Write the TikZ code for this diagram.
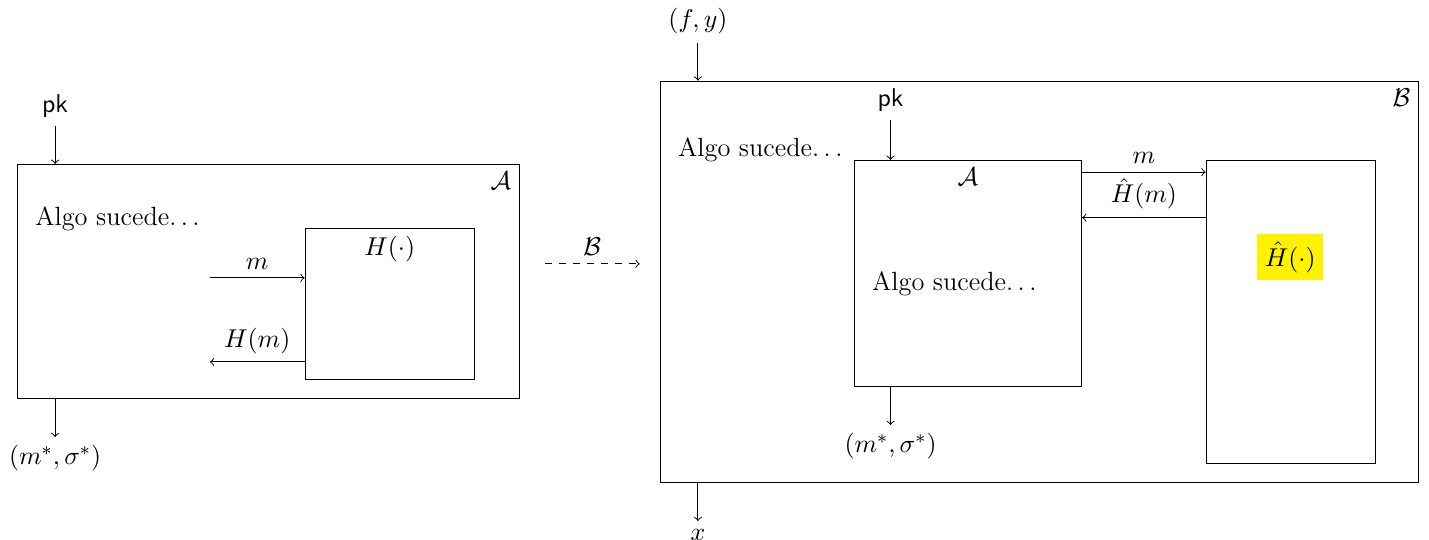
\documentclass[tikz,border=0pt]{standalone}
\usepackage{amsmath,amssymb}
\usetikzlibrary{positioning}
\tikzset{
  caja/.style={draw, rectangle, anchor=south west, inner sep=0pt},
  resaltado/.style={fill=yellow},
}
\newcommand{\puntos}{.\kern.167em.\kern.167em.}
\begin{document}
\begin{tikzpicture}[font=\fontsize{11.2}{13.5}\selectfont]
\useasboundingbox (-0.254,-2.108) rectangle (21.11,5.964);
% adversario A con su oraculo H
\node[caja, minimum width=7.5cm, minimum height=3.5cm] (A) at (0,0) {};
\node[anchor=north east] (labA) at (A.north east) {$\mathcal{A}$};
\node[anchor=west] (algoA) at (0.15,2.7) {Algo sucede\puntos};
\node[caja, minimum width=2.53cm, minimum height=2.26cm] (H) at (4.3,0.28) {};
\node[anchor=north] (labH) at (H.north) {$H(\cdot)$};
\coordinate (mA) at (2.885,1.81);
\coordinate (hA) at (2.885,0.553);
\draw[->] (mA) -- (mA -| H.west) node[midway,above] {$m$};
\draw[->] (hA -| H.west) -- (hA) node[midway,above] {$H(m)$};
\node[above=5.7mm of A.north west, xshift=5.7mm] (pkA) {$\mathsf{pk}$};
\draw[->] (pkA) -- (pkA |- A.north);
\node[below=5.7mm of A.south west, xshift=5.7mm] (outA) {$(m^*,\sigma^*)$};
\draw[->] (outA |- A.south) -- (outA);
% reduccion
\coordinate (r0) at (7.89,2.02);
\coordinate (r1) at (9.31,2.02);
\draw[->,dashed] (r0) -- (r1) node[midway,above] {$\mathcal{B}$};
% B simula a A y a H
\node[caja, minimum width=11.33cm, minimum height=6cm] (B) at (9.61,-1.256) {};
\node[anchor=north east] (labB) at (B.north east) {$\mathcal{B}$};
\node[anchor=west] (algoB) at (9.76,3.72) {Algo sucede\puntos};
\node[caja, minimum width=3.4cm, minimum height=3.38cm] (A2) at (12.51,0.18) {};
\node[anchor=north] (labA2) at (A2.north) {$\mathcal{A}$};
\node[anchor=west] (algoA2) at (12.66,1.72) {Algo sucede\puntos};
\node[caja, minimum width=2.53cm, minimum height=4.53cm] (H2) at (17.77,-0.97) {};
\node[resaltado] (labH2) at (19.035,2.12) {$\hat{H}(\cdot)$};
\coordinate (m2) at (0,3.39);
\coordinate (h2) at (0,2.71);
\draw[->] (m2 -| A2.east) -- (m2 -| H2.west) node[midway,above] {$m$};
\draw[->] (h2 -| H2.west) -- (h2 -| A2.east) node[midway,above] {$\hat{H}(m)$};
\node[above=6mm of A2.north west, xshift=5.5mm] (pkB) {$\mathsf{pk}$};
\draw[->] (pkB) -- (pkB |- A2.north);
\node[below=5.7mm of A2.south west, xshift=5.5mm] (outB) {$(m^*,\sigma^*)$};
\draw[->] (outB |- A2.south) -- (outB);
\node[above=5.7mm of B.north west, xshift=5.7mm] (fy) {$(f,y)$};
\draw[->] (fy) -- (fy |- B.north);
\node[below=5.7mm of B.south west, xshift=5.7mm] (xout) {$x$};
\draw[->] (xout |- B.south) -- (xout);
\end{tikzpicture}
\end{document}
